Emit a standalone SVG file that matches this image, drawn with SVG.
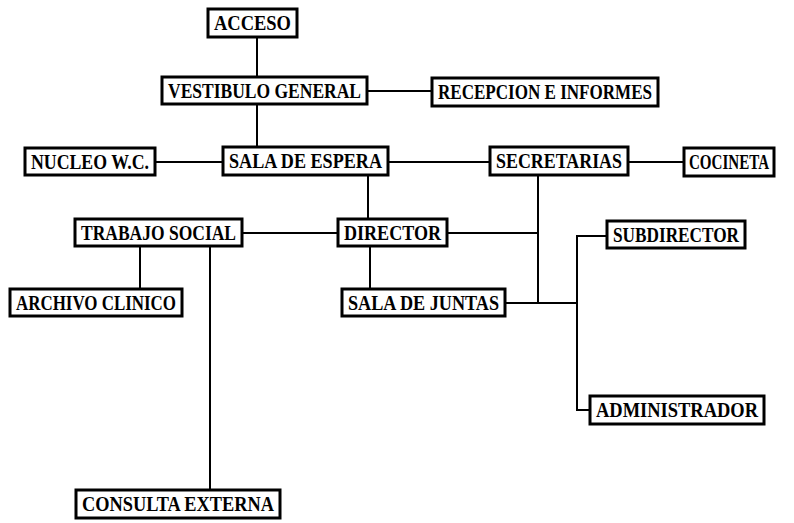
<svg xmlns="http://www.w3.org/2000/svg" width="794" height="523" viewBox="0 0 794 523">
<style>
.box{fill:#fff;stroke:#000;stroke-width:3}
.lbl{font-family:"Liberation Serif","Times New Roman",serif;font-weight:bold;font-size:20px;fill:#000;text-anchor:middle}
.conn{stroke:#000;stroke-width:2;fill:none}
</style>
<rect width="794" height="523" fill="#fff"/>
<g id="connectors" class="conn">
<path d="M257 37V77"/>
<path d="M367 91H432"/>
<path d="M257 104V147"/>
<path d="M155 162H223"/>
<path d="M388 162H490"/>
<path d="M628 162H684"/>
<path d="M368 175V219"/>
<path d="M242 233H338"/>
<path d="M447 233H538"/>
<path d="M538 175V303"/>
<path d="M505 303H577"/>
<path d="M607 236H577V410H590"/>
<path d="M370 246V289"/>
<path d="M140 246V289"/>
<path d="M210 246V490"/>
</g>
<g id="acceso"><rect class="box" x="208" y="9" width="89" height="28"/><text class="lbl" x="252.5" y="30" textLength="77" lengthAdjust="spacingAndGlyphs">ACCESO</text></g>
<g id="vestibulo"><rect class="box" x="162" y="77" width="205" height="27"/><text class="lbl" x="264.5" y="98" textLength="193" lengthAdjust="spacingAndGlyphs">VESTIBULO GENERAL</text></g>
<g id="recepcion"><rect class="box" x="432" y="78" width="226" height="28"/><text class="lbl" x="545" y="99" textLength="214" lengthAdjust="spacingAndGlyphs">RECEPCION E INFORMES</text></g>
<g id="nucleo"><rect class="box" x="25" y="148" width="130" height="27"/><text class="lbl" x="90" y="169" textLength="118" lengthAdjust="spacingAndGlyphs">NUCLEO W.C.</text></g>
<g id="sala-espera"><rect class="box" x="223" y="147" width="165" height="28"/><text class="lbl" x="305.5" y="168" textLength="153" lengthAdjust="spacingAndGlyphs">SALA DE ESPERA</text></g>
<g id="secretarias"><rect class="box" x="490" y="147" width="138" height="28"/><text class="lbl" x="559" y="168" textLength="126" lengthAdjust="spacingAndGlyphs">SECRETARIAS</text></g>
<g id="cocineta"><rect class="box" x="684" y="148" width="90" height="28"/><text class="lbl" x="729" y="169" textLength="80" lengthAdjust="spacingAndGlyphs">COCINETA</text></g>
<g id="trabajo-social"><rect class="box" x="75" y="219" width="167" height="27"/><text class="lbl" x="158.5" y="240" textLength="155" lengthAdjust="spacingAndGlyphs">TRABAJO SOCIAL</text></g>
<g id="director"><rect class="box" x="338" y="219" width="109" height="27"/><text class="lbl" x="392.5" y="240" textLength="97" lengthAdjust="spacingAndGlyphs">DIRECTOR</text></g>
<g id="subdirector"><rect class="box" x="607" y="221" width="138" height="27"/><text class="lbl" x="676" y="242" textLength="126" lengthAdjust="spacingAndGlyphs">SUBDIRECTOR</text></g>
<g id="archivo"><rect class="box" x="10" y="289" width="172" height="27"/><text class="lbl" x="96" y="310" textLength="160" lengthAdjust="spacingAndGlyphs">ARCHIVO CLINICO</text></g>
<g id="sala-juntas"><rect class="box" x="342" y="289" width="163" height="27"/><text class="lbl" x="423.5" y="310" textLength="151" lengthAdjust="spacingAndGlyphs">SALA DE JUNTAS</text></g>
<g id="administrador"><rect class="box" x="590" y="396" width="174" height="28"/><text class="lbl" x="677" y="417" textLength="162" lengthAdjust="spacingAndGlyphs">ADMINISTRADOR</text></g>
<g id="consulta"><rect class="box" x="76" y="490" width="204" height="28"/><text class="lbl" x="178" y="511" textLength="192" lengthAdjust="spacingAndGlyphs">CONSULTA EXTERNA</text></g>
</svg>
